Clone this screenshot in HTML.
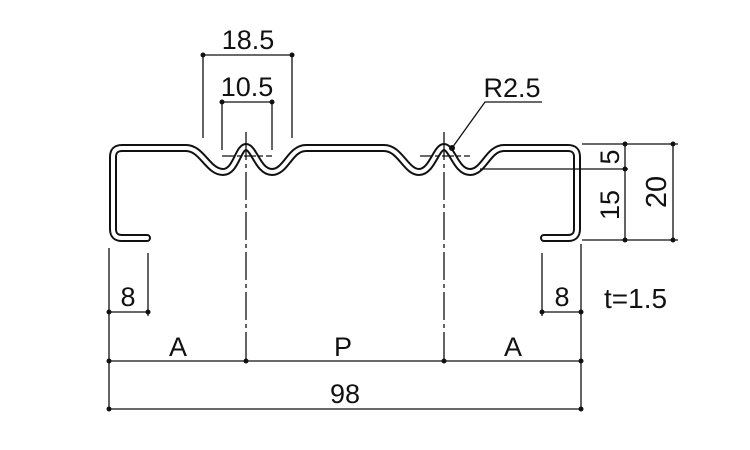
<!DOCTYPE html>
<html><head><meta charset="utf-8"><style>
html,body{margin:0;padding:0;background:#fff;}
svg{display:block;}
text{font-family:"Liberation Sans",sans-serif;fill:#111;}
</style></head><body>
<svg width="750" height="450" viewBox="0 0 750 450" xmlns="http://www.w3.org/2000/svg">
<defs>
<path id="prof" d="M147,238 L122,238 Q113,238 113,229 L113,157 Q113,148 122,148 L186,148 C202,148 208,172 223,172 C236,172 238,147 246,147 C254,147 258,172 272,172 C286,172 290,148 306,148 L384,148 C400,148 406,172 419,172 C432,172 436,147 444,147 C452,147 456,172 470,172 C484,172 488,148 504,148 L568,148 Q577,148 577,157 L577,229 Q577,238 568,238 L544,238"/>
</defs>
<use href="#prof" stroke="#111" stroke-width="8" fill="none" stroke-linejoin="round" stroke-linecap="round"/>
<use href="#prof" stroke="#fff" stroke-width="4" fill="none" stroke-linejoin="round" stroke-linecap="round"/>
<g stroke="#111" stroke-width="1.3" fill="none">
<line x1="246" y1="132" x2="246" y2="360" stroke-dasharray="28,4,4,4"/>
<line x1="444" y1="132" x2="444" y2="360" stroke-dasharray="28,4,4,4"/>
<line x1="222" y1="156" x2="272" y2="156" stroke-dasharray="12,3,4,3"/>
<line x1="420" y1="156" x2="470" y2="156" stroke-dasharray="12,3,4,3"/>
<line x1="203" y1="55" x2="292" y2="55"/>
<line x1="203" y1="55" x2="203" y2="138"/>
<line x1="292" y1="55" x2="292" y2="138"/>
<line x1="222" y1="102" x2="272" y2="102"/>
<line x1="222" y1="102" x2="222" y2="150"/>
<line x1="272" y1="102" x2="272" y2="150"/>
<polyline points="452,148 485,102 542,102"/>
<line x1="582" y1="144" x2="678" y2="144"/>
<line x1="480" y1="169" x2="628" y2="169"/>
<line x1="582" y1="240" x2="678" y2="240"/>
<line x1="625" y1="144" x2="625" y2="240"/>
<line x1="673" y1="144" x2="673" y2="240"/>
<line x1="109" y1="248" x2="109" y2="411"/>
<line x1="148" y1="253" x2="148" y2="316"/>
<line x1="581" y1="244" x2="581" y2="411"/>
<line x1="542" y1="253" x2="542" y2="316"/>
<line x1="109" y1="312" x2="148" y2="312"/>
<line x1="542" y1="312" x2="581" y2="312"/>
<line x1="109" y1="361" x2="581" y2="361"/>
<line x1="109" y1="409" x2="581" y2="409"/>
</g>
<g fill="#111">
<circle cx="203" cy="55" r="2.5"/><circle cx="292" cy="55" r="2.5"/>
<circle cx="222" cy="102" r="2.5"/><circle cx="272" cy="102" r="2.5"/>
<circle cx="452" cy="148" r="3"/>
<circle cx="625" cy="144" r="2.5"/><circle cx="625" cy="169" r="2.5"/><circle cx="625" cy="240" r="2.5"/>
<circle cx="673" cy="144" r="2.5"/><circle cx="673" cy="240" r="2.5"/>
<circle cx="109" cy="312" r="2.5"/><circle cx="148" cy="312" r="2.5"/>
<circle cx="542" cy="312" r="2.5"/><circle cx="581" cy="312" r="2.5"/>
<circle cx="109" cy="361" r="2.5"/><circle cx="246" cy="361" r="2.5"/><circle cx="444" cy="361" r="2.5"/><circle cx="581" cy="361" r="2.5"/>
<circle cx="109" cy="409" r="2.5"/><circle cx="581" cy="409" r="2.5"/>
</g>
<g font-size="27">
<text x="248" y="49" text-anchor="middle">18.5</text>
<text x="247" y="96" text-anchor="middle">10.5</text>
<text x="512" y="97" text-anchor="middle">R2.5</text>
<text x="128" y="306" text-anchor="middle">8</text>
<text x="562" y="306" text-anchor="middle">8</text>
<text x="604" y="308" font-size="28">t=1.5</text>
<text x="178" y="356" text-anchor="middle">A</text>
<text x="343" y="356" text-anchor="middle">P</text>
<text x="513" y="356" text-anchor="middle">A</text>
<text x="345" y="403" text-anchor="middle">98</text>
<text transform="translate(619,157) rotate(-90)" text-anchor="middle">5</text>
<text transform="translate(619,205) rotate(-90)" text-anchor="middle">15</text>
<text transform="translate(666,192) rotate(-90)" text-anchor="middle" font-size="29">20</text>
</g>
</svg>
</body></html>
